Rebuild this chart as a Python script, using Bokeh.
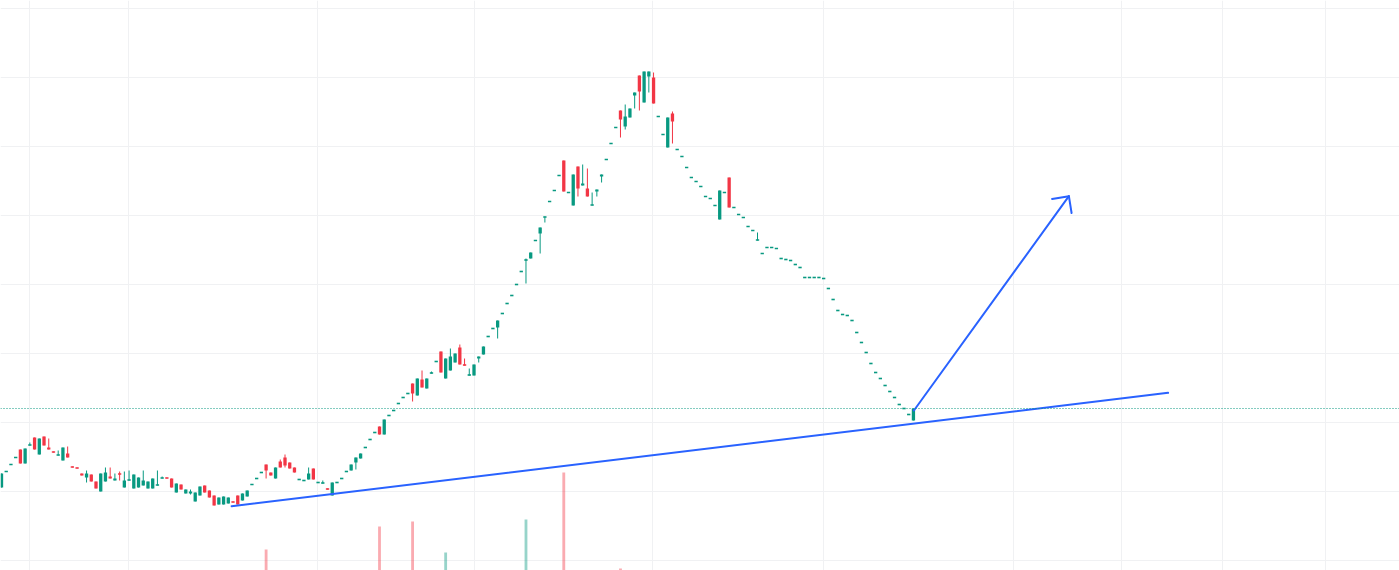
import math
from bokeh.plotting import figure
from bokeh.models import Range1d, Grid, FixedTicker, Span, ColumnDataSource
from bokeh.embed import file_html
from bokeh.resources import INLINE

# ---------------- data (bar index = time, price in chart units) ----------------
opens = [
    83, 99, 106, 113, 121, 107, 125, 133, 116, 134,
    123, 119, 115, 110, 117, 104, 103, 97, 93, 96,
    89, 79, 89, 94, 90, 97, 83, 90, 82, 83,
    85, 82, 82, 85, 92, 93, 92, 78, 86, 77,
    77, 69, 75, 85, 80, 75, 66, 66, 67, 69,
    75, 70, 74, 86, 92, 98, 106, 98, 92, 109,
    113, 108, 103, 91, 90, 91, 102, 88, 87, 82,
    75, 88, 92, 99, 100, 108, 112, 123, 131, 138,
    144, 136, 155, 160, 167, 173, 177, 187, 175, 191,
    182, 197, 209, 219, 192, 200, 208, 223, 206, 195,
    195, 212, 216, 234, 242, 243, 257, 267, 275, 286,
    299, 310, 312, 330, 337, 353, 369, 380, 395, 410,
    378, 365, 404, 385, 382, 365, 379, 394, 411, 427,
    443, 460, 444, 453, 475, 495, 468, 494, 493, 454,
    436, 423, 457, 421, 414, 403, 393, 389, 384, 374,
    372, 365, 351, 378, 393, 363, 356, 353, 344, 340,
    330, 317, 323, 323, 322, 312, 311, 310, 306, 303,
    293, 293, 293, 293, 292, 282, 271, 260, 256, 255,
    250, 238, 228, 218, 207, 198, 192, 185, 179, 173,
    166, 162, 156, 150,
]
highs = [
    97, 99, 106, 113, 121, 122, 128, 133, 132, 134,
    132, 119, 120, 123, 124, 104, 103, 97, 100, 96,
    89, 97, 103, 103, 97, 99, 99, 100, 96, 93,
    100, 89, 92, 100, 94, 93, 92, 87, 86, 81,
    81, 78, 84, 85, 80, 75, 73, 74, 73, 69,
    75, 77, 80, 86, 92, 98, 106, 98, 103, 111,
    116, 108, 103, 91, 90, 103, 102, 88, 90, 82,
    88, 88, 92, 99, 106, 113, 117, 123, 131, 138,
    144, 151, 155, 160, 167, 173, 177, 187, 192, 200,
    192, 199, 209, 219, 212, 222, 217, 226, 212, 202,
    206, 214, 224, 234, 242, 250, 257, 267, 275, 286,
    299, 312, 318, 330, 343, 354, 369, 380, 395, 410,
    378, 396, 404, 406, 402, 378, 381, 396, 411, 427,
    443, 460, 466, 462, 478, 495, 499, 499, 498, 454,
    436, 453, 459, 421, 414, 403, 393, 389, 384, 374,
    372, 365, 380, 378, 393, 363, 356, 353, 344, 340,
    338, 317, 323, 323, 322, 312, 311, 310, 306, 303,
    293, 293, 293, 293, 292, 282, 271, 260, 256, 255,
    250, 238, 228, 218, 207, 198, 192, 185, 179, 173,
    166, 162, 156, 162,
]
lows = [
    83, 99, 106, 113, 107, 107, 125, 121, 116, 125,
    121, 118, 115, 110, 113, 103, 102, 95, 88, 89,
    82, 79, 89, 92, 90, 90, 83, 90, 82, 83,
    85, 82, 82, 85, 92, 92, 83, 78, 81, 77,
    76, 69, 75, 78, 73, 65, 66, 66, 67, 68,
    66, 70, 74, 86, 92, 98, 92, 95, 92, 103,
    103, 102, 98, 91, 90, 91, 91, 88, 87, 81,
    75, 88, 92, 99, 100, 101, 112, 123, 131, 138,
    136, 136, 155, 160, 167, 173, 177, 169, 175, 183,
    182, 197, 209, 198, 192, 200, 208, 206, 205, 195,
    195, 208, 216, 234, 242, 232, 257, 267, 275, 286,
    299, 287, 312, 330, 317, 348, 369, 380, 395, 379,
    378, 365, 374, 385, 374, 365, 374, 388, 411, 427,
    443, 433, 441, 453, 462, 460, 468, 478, 467, 454,
    436, 423, 427, 421, 414, 403, 393, 389, 384, 374,
    372, 365, 351, 378, 363, 363, 356, 353, 344, 340,
    330, 317, 323, 323, 322, 312, 311, 310, 306, 303,
    293, 293, 293, 293, 292, 282, 271, 260, 256, 255,
    250, 238, 228, 218, 207, 198, 192, 185, 179, 173,
    166, 162, 156, 150,
]
closes = [
    97, 99, 106, 113, 107, 122, 126, 121, 132, 125,
    121, 118, 116, 123, 113, 103, 102, 95, 97, 89,
    82, 97, 98, 92, 92, 96, 90, 91, 96, 93,
    90, 89, 92, 86, 93, 92, 83, 87, 81, 81,
    79, 78, 84, 78, 73, 65, 73, 74, 73, 68,
    66, 77, 80, 86, 92, 98, 100, 95, 103, 103,
    105, 102, 98, 91, 90, 97, 91, 88, 88, 81,
    88, 88, 92, 99, 106, 113, 117, 123, 131, 138,
    136, 151, 155, 160, 167, 173, 177, 177, 192, 183,
    192, 198, 209, 198, 212, 214, 217, 206, 205, 196,
    206, 214, 224, 234, 242, 250, 257, 267, 275, 286,
    299, 311, 318, 330, 343, 354, 369, 380, 395, 379,
    378, 396, 382, 387, 374, 366, 381, 396, 411, 427,
    443, 451, 454, 462, 478, 479, 499, 499, 467, 454,
    436, 453, 449, 421, 414, 403, 393, 389, 384, 374,
    372, 365, 380, 378, 363, 363, 356, 353, 344, 340,
    331, 317, 323, 323, 322, 312, 311, 310, 306, 303,
    293, 293, 293, 293, 292, 282, 271, 260, 256, 255,
    250, 238, 228, 218, 207, 198, 192, 185, 179, 173,
    166, 162, 156, 162,
]

# volume bars that reach into the visible area (bar index, volume)
vol_index = [56, 80, 87, 94, 111, 119, 131]
vol_values = [71, 94, 99, 68, 101, 148, 52]

# drawings
trend_x = [48.7, 246.9]
trend_y = [64.3, 177.7]
arrow_x = [193.1, 225.9]
arrow_y = [160.0, 374.3]

# time / price grid positions
time_grid = [6.0, 26.9, 66.9, 100.0, 137.8, 174.0, 214.1, 237.0, 258.4, 280.2]
price_grid = [10, 79, 148, 217, 286, 355, 424, 493, 562]

# ---------------- figure ----------------
W, H = 1399, 570
X0, X1 = -0.2116, 295.87
Y0, Y1 = 0, 570

UP = "#089981"
DOWN = "#F23645"
BLUE = "#2962FF"

p = figure(width=W, height=H, output_backend="svg", toolbar_location=None,
           x_range=Range1d(X0, X1), y_range=Range1d(Y0, Y1),
           x_axis_location=None, y_axis_location=None,
           min_border=0, outline_line_color=None,
           background_fill_color="white", border_fill_color="white")
p.grid.visible = False

p.add_layout(Grid(dimension=0, ticker=FixedTicker(ticks=time_grid),
                  grid_line_color="#F0F1F3", grid_line_width=1))
p.add_layout(Grid(dimension=1, ticker=FixedTicker(ticks=price_grid),
                  grid_line_color="#F0F1F3", grid_line_width=1))

# volume (overlay scale, base below the visible area)
p.extra_y_ranges = {"vol": Range1d(50, 620)}
vcol = [UP if closes[i] >= opens[i] else DOWN for i in vol_index]
p.vbar(x=vol_index, top=vol_values, bottom=0, width=0.6, y_range_name="vol",
       fill_color=vcol, line_color=None, fill_alpha=0.42)

# candles
n = len(opens)
xs = list(range(n))
colors = [UP if c >= o else DOWN for o, c in zip(opens, closes)]
btop, bbot = [], []
for o, c in zip(opens, closes):
    lo_, hi_ = min(o, c), max(o, c)
    if hi_ - lo_ < 1.6:
        mid = (hi_ + lo_) / 2
        lo_, hi_ = mid - 0.8, mid + 0.8
    btop.append(hi_)
    bbot.append(lo_)
src = ColumnDataSource(dict(x=xs, h=highs, l=lows, t=btop, b=bbot, c=colors))
p.segment(x0="x", y0="h", x1="x", y1="l", color="c", line_width=1, source=src)
p.vbar(x="x", top="t", bottom="b", width=0.7, fill_color="c", line_color=None, source=src)

# last price line
p.add_layout(Span(location=closes[-1], dimension="width", line_color=UP,
                  line_width=1, line_dash="1 2"))

# trend line and arrow
p.line(trend_x, trend_y, line_color=BLUE, line_width=2, line_cap="round")
p.line(arrow_x, arrow_y, line_color=BLUE, line_width=2, line_cap="round")

sx = W / (X1 - X0)
sy = H / (Y1 - Y0)
dxp = (arrow_x[1] - arrow_x[0]) * sx
dyp = (arrow_y[1] - arrow_y[0]) * sy
L = math.hypot(dxp, dyp)
ux, uy = -dxp / L, -dyp / L
head = 17.0
for ang in (math.pi / 4, -math.pi / 4):
    rx = ux * math.cos(ang) - uy * math.sin(ang)
    ry = ux * math.sin(ang) + uy * math.cos(ang)
    p.line([arrow_x[1], arrow_x[1] + rx * head / sx],
           [arrow_y[1], arrow_y[1] + ry * head / sy],
           line_color=BLUE, line_width=2, line_cap="round")

open("out.html", "w").write(file_html(p, INLINE))
